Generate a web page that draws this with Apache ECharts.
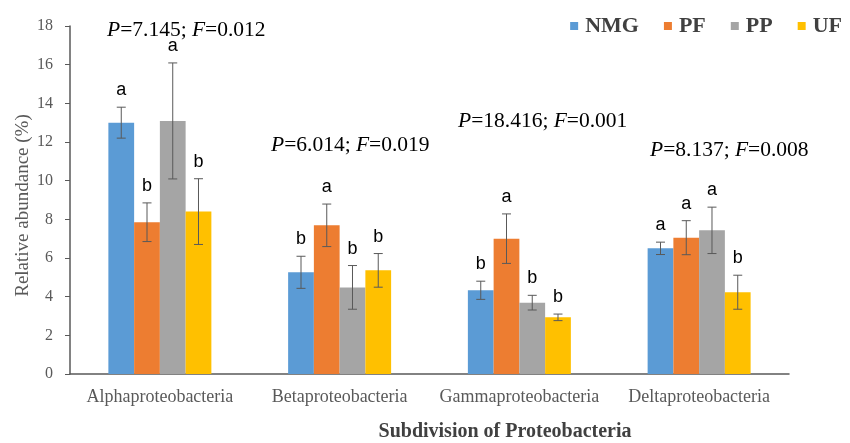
<!DOCTYPE html>
<html><head><meta charset="utf-8">
<script src="https://cdn.jsdelivr.net/npm/echarts@6/dist/echarts.min.js"></script>
<style>html,body{margin:0;padding:0;background:#fff}#c{width:850px;height:443px}</style>
</head><body><div id="c"></div>
<script>
var categories = ['Alphaproteobacteria','Betaproteobacteria','Gammaproteobacteria','Deltaproteobacteria'];
var seriesNames = ['NMG','PF','PP','UF'];
var colors = ['#5B9BD5','#ED7D31','#A5A5A5','#FFC000'];
var NMG = [13.0, 5.26, 4.33, 6.50];
var PF  = [7.85, 7.69, 7.00, 7.05];
var PP  = [13.09, 4.48, 3.69, 7.43];
var UF  = [8.40, 5.36, 2.93, 4.23];
var NMG_err = [0.80, 0.83, 0.47, 0.32];
var PF_err  = [1.00, 1.10, 1.28, 0.88];
var PP_err  = [3.00, 1.13, 0.38, 1.20];
var UF_err  = [1.70, 0.87, 0.17, 0.88];
var NMG_sig = ['a','b','b','a'];
var PF_sig  = ['b','a','a','a'];
var PP_sig  = ['a','b','b','a'];
var UF_sig  = ['b','b','b','b'];
var stats = ['7.145; ','0.012','6.014; ','0.019','18.416; ','0.001','8.137; ','0.008'];
var xTitle = 'Subdivision of Proteobacteria';
var yTitle = 'Relative abundance (%)';
var yTicks = [0,2,4,6,8,10,12,14,16,18];

var values = [NMG, PF, PP, UF];
var errs = [NMG_err, PF_err, PP_err, UF_err];
var sigs = [NMG_sig, PF_sig, PP_sig, UF_sig];
var catGap = 0.427;
var SERIF = '"Liberation Serif", "Times New Roman", serif';

var chart = echarts.init(document.getElementById('c'));
var series = [];
seriesNames.forEach(function(n, i){
  series.push({name:n, type:'bar', data:values[i], barGap:'0%', barCategoryGap:(catGap*100)+'%',
    itemStyle:{color:colors[i]}, emphasis:{disabled:true}, z:2});
});
seriesNames.forEach(function(n, i){
  var d = categories.map(function(c, k){ return [k, values[i][k], errs[i][k]]; });
  series.push({type:'custom', data:d, z:5, silent:true,
    renderItem:function(params, api){
      var k = api.value(0), v = api.value(1), e = api.value(2);
      var band = api.size([1,0])[0];
      var bw = band*(1-catGap)/4;
      var c = api.coord([k, v]);
      var x = c[0] + (i-1.5)*bw;
      var yt = api.coord([k, v+e])[1];
      var yb = api.coord([k, v-e])[1];
      var cap = 4.5;
      var st = {stroke:'#595959', lineWidth:1};
      return {type:'group', children:[
        {type:'line', shape:{x1:x,y1:yt,x2:x,y2:yb}, style:st},
        {type:'line', shape:{x1:x-cap,y1:yt,x2:x+cap,y2:yt}, style:st},
        {type:'line', shape:{x1:x-cap,y1:yb,x2:x+cap,y2:yb}, style:st},
        {type:'text', x:x, y:yt-8, style:{text:sigs[i][k], fill:'#000', font:'18px "Liberation Sans", Arial, sans-serif', align:'center', verticalAlign:'bottom'}}
      ]};
    }});
});

var rich = {i:{fontStyle:'italic', fontFamily:SERIF, fontSize:21.5, color:'#000'},
            n:{fontFamily:SERIF, fontSize:21.5, color:'#000'}};
function statText(k){ return '{i|P}{n|=' + stats[2*k] + '}{i|F}{n|=' + stats[2*k+1] + '}'; }
var statPos = [[107,30],[271,145],[458,121],[650,150]];
var graphics = statPos.map(function(p, k){
  return {type:'text', x:p[0], y:p[1], style:{text:statText(k), rich:rich, verticalAlign:'middle'}};
});
graphics.push({type:'text', x:505, y:432, style:{text:xTitle, font:'bold 20px ' + SERIF, fill:'#404040', align:'center', verticalAlign:'middle'}});

chart.setOption({
  animation:false,
  grid:{left:70, right:61, top:26, bottom:69, containLabel:false, outerBoundsMode:'none'},
  legend:{data:seriesNames, right:3, top:10, icon:'rect', itemWidth:8, itemHeight:8, itemGap:25,
    textStyle:{fontFamily:SERIF, fontWeight:'bold', fontSize:22, color:'#404040', padding:[0,0,0,2]}},
  xAxis:{type:'category', data:categories,
    axisLine:{lineStyle:{color:'#595959', width:1.5}}, axisTick:{show:false},
    axisLabel:{interval:0, hideOverlap:false, fontFamily:SERIF, fontSize:18, color:'#595959', margin:14}},
  yAxis:{type:'value', min:0, max:18, interval:2,
    axisLine:{show:true, lineStyle:{color:'#595959', width:1.5}}, axisTick:{show:true, length:5, lineStyle:{color:'#595959'}},
    splitLine:{show:false},
    axisLabel:{fontFamily:SERIF, fontSize:16, color:'#595959', margin:17},
    name:yTitle, nameLocation:'middle', nameGap:37, nameRotate:90, nameMoveOverlap:false,
    nameTextStyle:{fontFamily:SERIF, fontSize:19, color:'#595959', padding:[0,11,0,0]}},
  graphic: graphics,
  series:series
});
</script></body></html>
